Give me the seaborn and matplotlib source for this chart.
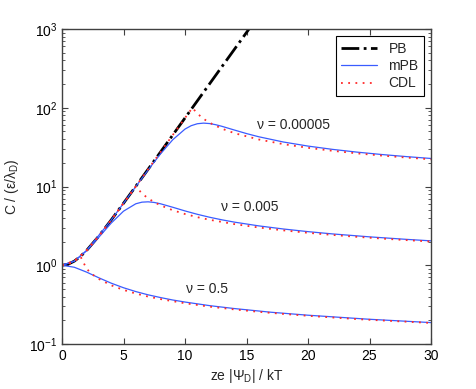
import matplotlib
matplotlib.use("Agg")
import matplotlib.pyplot as plt
import seaborn as sns
import pandas as pd

sns.set_style("ticks")
plt.rcParams['font.family'] = ['Liberation Sans', 'DejaVu Sans']
plt.rcParams['mathtext.fontset'] = 'custom'
plt.rcParams['mathtext.rm'] = 'Liberation Sans'
plt.rcParams['mathtext.it'] = 'Liberation Sans:italic'
plt.rcParams['font.size'] = 10

# PB curve
pb_x = [0, 0.5, 1, 1.5, 2, 3, 4, 5, 6, 7, 8, 9, 10, 11, 12, 13, 14, 15, 16]
pb_y = [1.0, 1.031, 1.128, 1.295, 1.543, 2.352, 3.762, 6.132, 10.07, 16.57,
        27.31, 45.01, 74.21, 122.3, 201.7, 332.6, 548.3, 904.0, 1490.0]

# mPB, nu = 0.00005
mpb1_x = [0, 1, 2, 4, 6, 7, 8, 9, 10, 10.5, 11, 11.5, 12, 12.5, 13, 14, 15, 16,
          18, 20, 22, 24, 26, 28, 30]
mpb1_y = [1.0, 1.128, 1.543, 3.759, 9.99, 16.24, 25.88, 39.23, 53.62, 59.21,
          62.67, 63.82, 63.01, 60.90, 58.12, 52.21, 47.01, 42.81, 36.73, 32.61,
          29.61, 27.31, 25.48, 23.97, 22.70]
# mPB, nu = 0.005
mpb2_x = [0, 1, 2, 3, 4, 5, 6, 6.5, 7, 7.5, 8, 9, 10, 11, 12, 13, 14, 16, 18,
          20, 22, 25, 28, 30]
mpb2_y = [1.0, 1.125, 1.527, 2.276, 3.430, 4.863, 6.038, 6.328, 6.390, 6.272,
          6.039, 5.452, 4.895, 4.436, 4.069, 3.774, 3.532, 3.161, 2.886, 2.672,
          2.499, 2.294, 2.132, 2.041]
# mPB, nu = 0.5
mpb3_x = [0, 1, 2, 3, 4, 5, 6, 7, 8, 9, 10, 12, 14, 17, 20, 25, 30]
mpb3_y = [1.0, 0.943, 0.818, 0.692, 0.592, 0.518, 0.463, 0.421, 0.389, 0.362,
          0.341, 0.307, 0.282, 0.253, 0.232, 0.206, 0.187]

# CDL, nu = 0.00005
cdl1_x = [0, 1, 2, 3, 4, 5, 6, 7, 8, 9, 10, 10.6, 11, 11.5, 12, 13, 14, 16, 18,
          20, 22, 24, 26, 28, 30]
cdl1_y = [1.0, 1.128, 1.543, 2.352, 3.762, 6.132, 10.07, 16.57, 27.31, 45.01,
          74.21, 100.0, 84.42, 72.48, 64.51, 54.21, 47.66, 39.52, 34.50, 31.00,
          28.39, 26.35, 24.69, 23.31, 22.14]
# CDL, nu = 0.005
cdl2_x = [0, 1, 2, 3, 4, 5, 6, 6.5, 7, 7.5, 8, 9, 10, 11, 12, 14, 16, 18, 20,
          22, 24, 26, 28, 30]
cdl2_y = [1.0, 1.128, 1.543, 2.352, 3.762, 6.132, 10.0, 8.155, 7.065, 6.320,
          5.770, 4.998, 4.470, 4.081, 3.779, 3.333, 3.015, 2.773, 2.582, 2.425,
          2.294, 2.182, 2.085, 2.000]
# CDL, nu = 0.5
cdl3_x = [0, 0.5, 1, 1.5, 2, 2.5, 3, 4, 5, 6, 7, 8, 10, 12, 14, 16, 18, 20, 22,
          24, 26, 28, 30]
cdl3_y = [1.0, 1.031, 1.128, 1.295, 0.899, 0.759, 0.669, 0.556, 0.486, 0.437,
          0.400, 0.372, 0.329, 0.298, 0.275, 0.256, 0.241, 0.228, 0.217, 0.207,
          0.199, 0.192, 0.185]

nu_labels = ["\u03bd = 0.00005", "\u03bd = 0.005", "\u03bd = 0.5"]
label_pos = [(15.85, 60.4), (12.9, 5.54), (10.1, 0.495)]

fig = plt.figure(figsize=(4.76, 3.89), dpi=100)
ax = fig.add_axes([0.1303, 0.1157, 0.7752, 0.8097])

blue = '#3a5cff'
red = '#ff2a2a'

sns.lineplot(x=pb_x, y=pb_y, ax=ax, color='black', linestyle='-.', lw=2,
             label='PB', sort=False)
first = True
for xs, ys in [(mpb1_x, mpb1_y), (mpb2_x, mpb2_y), (mpb3_x, mpb3_y)]:
    sns.lineplot(x=xs, y=ys, ax=ax, color=blue, lw=0.9,
                 label='mPB' if first else None, sort=False, legend=first)
    first = False
first = True
for xs, ys in [(cdl1_x, cdl1_y), (cdl2_x, cdl2_y), (cdl3_x, cdl3_y)]:
    l = sns.lineplot(x=xs, y=ys, ax=ax, color=red, lw=1.3,
                     label='CDL' if first else None, sort=False, legend=first)
    ax.lines[-1].set_dashes((1, 3))
    first = False

ax.set_yscale('log')
ax.set_xlim(0, 30)
ax.set_ylim(0.1, 1000)
ax.set_xticks([0, 5, 10, 15, 20, 25, 30])

for t, (tx, ty) in zip(nu_labels, label_pos):
    ax.text(tx, ty, t, fontsize=10, va='center', ha='left')

ax.set_xlabel('ze |\u03a8$_\\mathrm{D}$| / kT', fontsize=10, labelpad=3)
ax.set_ylabel('C / (\u03b5/\u03bb$_\\mathrm{D}$)', fontsize=10, labelpad=6)

ax.tick_params(which='both', direction='in', top=True, right=True,
               colors='#404040', labelcolor='black', labelsize=10)
ax.tick_params(which='major', length=4, width=0.8)
ax.tick_params(which='minor', length=2, width=0.6)
ax.tick_params(axis='x', which='minor', bottom=False, top=False)
for s in ax.spines.values():
    s.set_color('#404040')
    s.set_linewidth(1.0)

leg = ax.legend(loc='upper right', fontsize=10, frameon=True, fancybox=False,
                edgecolor='black', framealpha=1, handlelength=2.6,
                borderaxespad=0.5, labelspacing=0.25)
leg.get_frame().set_linewidth(0.8)
for h in leg.get_lines():
    if h.get_label() == 'CDL':
        h.set_dashes((1, 3))

fig.savefig('out.png', dpi=100)
